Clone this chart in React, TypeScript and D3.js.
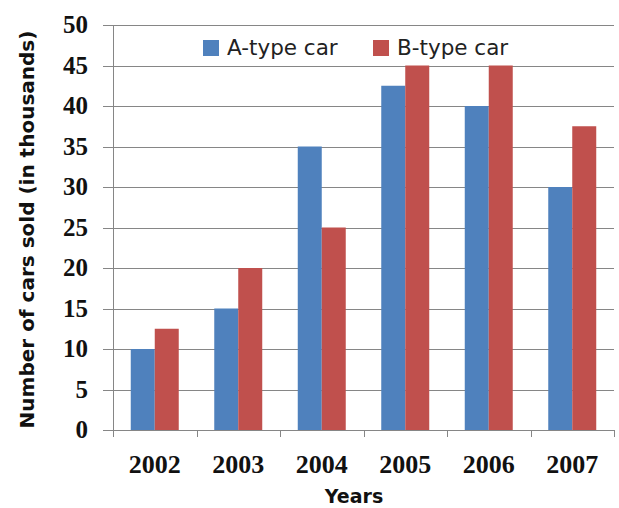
import { useEffect, useRef } from "react";
import * as d3 from "d3";

const years = ["2002", "2003", "2004", "2005", "2006", "2007"];
const seriesNames = ["A-type car", "B-type car"];
const typeA = [10, 15, 35, 42.5, 40, 30];
const typeB = [12.5, 20, 25, 45, 45, 37.5];
const yTicks = [0, 5, 10, 15, 20, 25, 30, 35, 40, 45, 50];
const colors = ["#4F81BD", "#C0504D"];

export default function App() {
  const svgRef = useRef<SVGSVGElement>(null);

  useEffect(() => {
    const width = 619;
    const height = 508;
    const margin = { top: 25, right: 5, bottom: 78, left: 113 };

    const svg = d3.select(svgRef.current);
    svg.selectAll("*").remove();

    const x = d3
      .scaleBand()
      .domain(years)
      .range([margin.left, width - margin.right])
      .paddingInner(0)
      .paddingOuter(0);
    const inner = d3
      .scaleBand()
      .domain(seriesNames)
      .range([0, x.bandwidth()])
      .paddingOuter(0.74)
      .paddingInner(0);
    const y = d3
      .scaleLinear()
      .domain([0, 50])
      .range([height - margin.bottom, margin.top]);

    // gridlines + y ticks
    svg
      .append("g")
      .selectAll("line")
      .data(yTicks)
      .join("line")
      .attr("x1", margin.left - 10)
      .attr("x2", width - margin.right)
      .attr("y1", (d) => Math.round(y(d)) + 0.5)
      .attr("y2", (d) => Math.round(y(d)) + 0.5)
      .attr("stroke", "#868686")
      .attr("stroke-width", 1);

    svg
      .append("g")
      .selectAll("text")
      .data(yTicks)
      .join("text")
      .attr("x", 88)
      .attr("y", (d) => y(d))
      .attr("dy", "0.32em")
      .attr("text-anchor", "end")
      .attr("font-family", "Liberation Serif")
      .attr("font-weight", "bold")
      .attr("font-size", 25)
      .attr("fill", "#111")
      .text((d) => d);

    // bars
    const data = years.map((yr, i) => ({ yr, vals: [typeA[i], typeB[i]] }));
    const groups = svg
      .append("g")
      .selectAll("g")
      .data(data)
      .join("g")
      .attr("transform", (d) => `translate(${x(d.yr)},0)`);
    groups
      .selectAll("rect")
      .data((d) => d.vals.map((v, j) => ({ v, name: seriesNames[j], j })))
      .join("rect")
      .attr("x", (d) => inner(d.name)!)
      .attr("width", inner.bandwidth())
      .attr("y", (d) => y(d.v))
      .attr("height", (d) => y(0) - y(d.v))
      .attr("fill", (d) => colors[d.j]);

    // axes lines
    const x0 = Math.round(margin.left) + 0.5;
    svg
      .append("line")
      .attr("x1", x0)
      .attr("x2", x0)
      .attr("y1", y(50))
      .attr("y2", y(0) + 7)
      .attr("stroke", "#868686");
    svg
      .append("g")
      .selectAll("line")
      .data(years.map((yr) => x(yr)!).concat([width - margin.right]))
      .join("line")
      .attr("x1", (d) => Math.round(d) + 0.5)
      .attr("x2", (d) => Math.round(d) + 0.5)
      .attr("y1", y(0))
      .attr("y2", y(0) + 7)
      .attr("stroke", "#868686");

    // x labels
    svg
      .append("g")
      .selectAll("text")
      .data(years)
      .join("text")
      .attr("x", (d) => x(d)! + x.bandwidth() / 2)
      .attr("y", 473)
      .attr("text-anchor", "middle")
      .attr("font-family", "Liberation Serif")
      .attr("font-weight", "bold")
      .attr("font-size", 26)
      .attr("fill", "#111")
      .text((d) => d);

    // axis titles
    svg
      .append("text")
      .attr("x", 354)
      .attr("y", 503)
      .attr("text-anchor", "middle")
      .attr("font-family", "DejaVu Sans")
      .attr("font-weight", "bold")
      .attr("font-size", 19)
      .attr("fill", "#111")
      .text("Years");
    svg
      .append("text")
      .attr("transform", `translate(34,${(y(0) + y(50)) / 2 + 2}) rotate(-90)`)
      .attr("text-anchor", "middle")
      .attr("font-family", "DejaVu Sans")
      .attr("font-weight", "bold")
      .attr("font-size", 20)
      .attr("fill", "#111")
      .text("Number of cars sold (in thousands)");

    // legend
    const legendX = [203, 373];
    const legend = svg
      .append("g")
      .selectAll("g")
      .data(seriesNames)
      .join("g")
      .attr("transform", (_, i) => `translate(${legendX[i]},40)`);
    legend
      .append("rect")
      .attr("width", 16)
      .attr("height", 16)
      .attr("fill", (_, i) => colors[i]);
    legend
      .append("text")
      .attr("x", 24)
      .attr("y", 15)
      .attr("font-family", "DejaVu Sans")
      .attr("font-size", 21.5)
      .attr("fill", "#222")
      .text((d) => d);
  }, []);

  return (
    <svg
      ref={svgRef}
      width={619}
      height={508}
      style={{ position: "absolute", left: 0, top: 0, background: "#fff" }}
    />
  );
}
